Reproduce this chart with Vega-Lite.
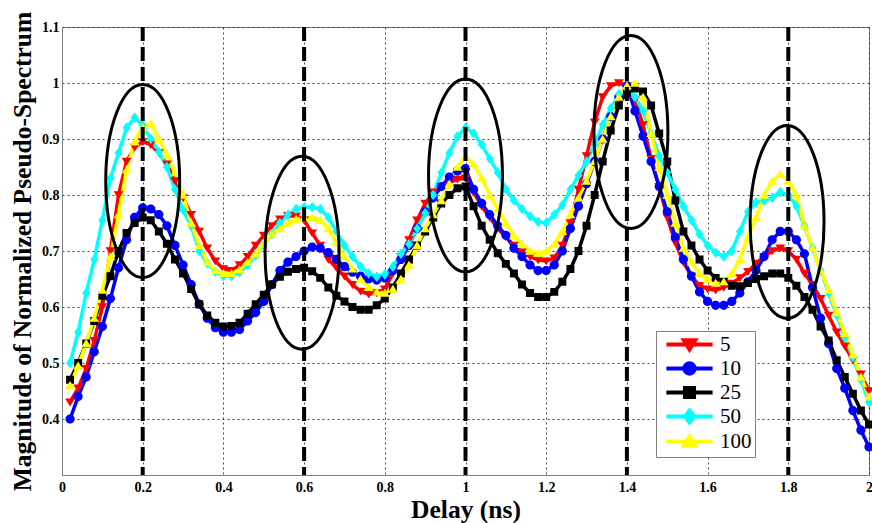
{
  "$schema": "https://vega.github.io/schema/vega-lite/v6.json",
  "width": 807,
  "height": 448,
  "autosize": {"type": "none"},
  "padding": {"left": 62, "top": 27, "right": 3, "bottom": 48},
  "background": "white",
  "config": {
    "view": {"stroke": "#808080", "strokeWidth": 1},
    "axis": {
      "labelFont": "Liberation Serif", "labelFontWeight": "bold", "labelFontSize": 14, "labelColor": "black",
      "titleFont": "Liberation Serif", "titleFontWeight": "bold", "titleFontSize": 25.5, "titleColor": "black",
      "domainColor": "#808080", "ticks": false, "gridColor": "#333333", "gridDash": [2, 3], "gridOpacity": 0.9,
      "labelFlush": false, "labelOverlap": false
    },
    "legend": {
      "title": null, "orient": "none", "legendX": 594, "legendY": 304,
      "fillColor": "white", "strokeColor": "#808080", "padding": 3,
      "symbolSize": 196, "symbolStrokeWidth": 4, "symbolOffset": 20, "labelOffset": 20,
      "symbolOpacity": 1,
      "labelFont": "Liberation Serif", "labelFontSize": 21, "labelFontWeight": "normal", "labelColor": "black",
      "rowPadding": -5.5
    }
  },
  "datasets": {
    "curves": [
      {"s":"5","d":0.02,"v":0.43},{"s":"5","d":0.04,"v":0.455},{"s":"5","d":0.06,"v":0.49},{"s":"5","d":0.08,"v":0.54},{"s":"5","d":0.10,"v":0.60},
      {"s":"5","d":0.12,"v":0.70},{"s":"5","d":0.14,"v":0.80},{"s":"5","d":0.16,"v":0.86},{"s":"5","d":0.18,"v":0.885},{"s":"5","d":0.20,"v":0.895},
      {"s":"5","d":0.22,"v":0.89},{"s":"5","d":0.24,"v":0.875},{"s":"5","d":0.26,"v":0.855},{"s":"5","d":0.28,"v":0.825},{"s":"5","d":0.30,"v":0.795},
      {"s":"5","d":0.32,"v":0.765},{"s":"5","d":0.34,"v":0.735},{"s":"5","d":0.36,"v":0.705},{"s":"5","d":0.38,"v":0.682},{"s":"5","d":0.40,"v":0.668},
      {"s":"5","d":0.42,"v":0.665},{"s":"5","d":0.44,"v":0.675},{"s":"5","d":0.46,"v":0.69},{"s":"5","d":0.48,"v":0.71},{"s":"5","d":0.50,"v":0.728},
      {"s":"5","d":0.52,"v":0.745},{"s":"5","d":0.54,"v":0.757},{"s":"5","d":0.56,"v":0.763},{"s":"5","d":0.58,"v":0.762},{"s":"5","d":0.60,"v":0.755},
      {"s":"5","d":0.62,"v":0.732},{"s":"5","d":0.64,"v":0.71},{"s":"5","d":0.66,"v":0.685},{"s":"5","d":0.68,"v":0.67},{"s":"5","d":0.70,"v":0.655},
      {"s":"5","d":0.72,"v":0.64},{"s":"5","d":0.74,"v":0.628},{"s":"5","d":0.76,"v":0.623},{"s":"5","d":0.78,"v":0.625},{"s":"5","d":0.80,"v":0.632},
      {"s":"5","d":0.82,"v":0.66},{"s":"5","d":0.84,"v":0.69},{"s":"5","d":0.86,"v":0.72},{"s":"5","d":0.88,"v":0.755},{"s":"5","d":0.90,"v":0.785},
      {"s":"5","d":0.92,"v":0.805},{"s":"5","d":0.94,"v":0.815},{"s":"5","d":0.96,"v":0.822},{"s":"5","d":0.98,"v":0.828},{"s":"5","d":1.00,"v":0.83},
      {"s":"5","d":1.02,"v":0.805},{"s":"5","d":1.04,"v":0.78},{"s":"5","d":1.06,"v":0.76},{"s":"5","d":1.08,"v":0.74},{"s":"5","d":1.10,"v":0.725},
      {"s":"5","d":1.12,"v":0.71},{"s":"5","d":1.14,"v":0.698},{"s":"5","d":1.16,"v":0.69},{"s":"5","d":1.18,"v":0.684},{"s":"5","d":1.20,"v":0.682},
      {"s":"5","d":1.22,"v":0.687},{"s":"5","d":1.24,"v":0.71},{"s":"5","d":1.26,"v":0.75},{"s":"5","d":1.28,"v":0.81},{"s":"5","d":1.30,"v":0.87},
      {"s":"5","d":1.32,"v":0.93},{"s":"5","d":1.34,"v":0.975},{"s":"5","d":1.36,"v":0.995},{"s":"5","d":1.38,"v":1.0},{"s":"5","d":1.40,"v":0.995},
      {"s":"5","d":1.42,"v":0.97},{"s":"5","d":1.44,"v":0.925},{"s":"5","d":1.46,"v":0.865},{"s":"5","d":1.48,"v":0.815},{"s":"5","d":1.50,"v":0.76},
      {"s":"5","d":1.52,"v":0.715},{"s":"5","d":1.54,"v":0.68},{"s":"5","d":1.56,"v":0.655},{"s":"5","d":1.58,"v":0.638},{"s":"5","d":1.60,"v":0.632},
      {"s":"5","d":1.62,"v":0.63},{"s":"5","d":1.64,"v":0.635},{"s":"5","d":1.66,"v":0.642},{"s":"5","d":1.68,"v":0.652},{"s":"5","d":1.70,"v":0.663},
      {"s":"5","d":1.72,"v":0.678},{"s":"5","d":1.74,"v":0.69},{"s":"5","d":1.76,"v":0.70},{"s":"5","d":1.78,"v":0.705},{"s":"5","d":1.80,"v":0.70},
      {"s":"5","d":1.82,"v":0.685},{"s":"5","d":1.84,"v":0.66},{"s":"5","d":1.86,"v":0.64},{"s":"5","d":1.88,"v":0.615},{"s":"5","d":1.90,"v":0.585},
      {"s":"5","d":1.92,"v":0.555},{"s":"5","d":1.94,"v":0.53},{"s":"5","d":1.96,"v":0.505},{"s":"5","d":1.98,"v":0.48},{"s":"5","d":2.00,"v":0.45},

      {"s":"10","d":0.02,"v":0.40},{"s":"10","d":0.04,"v":0.44},{"s":"10","d":0.06,"v":0.475},{"s":"10","d":0.08,"v":0.52},{"s":"10","d":0.10,"v":0.565},
      {"s":"10","d":0.12,"v":0.615},{"s":"10","d":0.14,"v":0.67},{"s":"10","d":0.16,"v":0.72},{"s":"10","d":0.18,"v":0.76},{"s":"10","d":0.20,"v":0.777},
      {"s":"10","d":0.22,"v":0.775},{"s":"10","d":0.24,"v":0.765},{"s":"10","d":0.26,"v":0.745},{"s":"10","d":0.28,"v":0.71},{"s":"10","d":0.30,"v":0.675},
      {"s":"10","d":0.32,"v":0.64},{"s":"10","d":0.34,"v":0.605},{"s":"10","d":0.36,"v":0.58},{"s":"10","d":0.38,"v":0.563},{"s":"10","d":0.40,"v":0.555},
      {"s":"10","d":0.42,"v":0.555},{"s":"10","d":0.44,"v":0.56},{"s":"10","d":0.46,"v":0.575},{"s":"10","d":0.48,"v":0.59},{"s":"10","d":0.50,"v":0.61},
      {"s":"10","d":0.52,"v":0.64},{"s":"10","d":0.54,"v":0.665},{"s":"10","d":0.56,"v":0.68},{"s":"10","d":0.58,"v":0.69},{"s":"10","d":0.60,"v":0.70},
      {"s":"10","d":0.62,"v":0.707},{"s":"10","d":0.64,"v":0.705},{"s":"10","d":0.66,"v":0.697},{"s":"10","d":0.68,"v":0.685},{"s":"10","d":0.70,"v":0.672},
      {"s":"10","d":0.72,"v":0.662},{"s":"10","d":0.74,"v":0.655},{"s":"10","d":0.76,"v":0.65},{"s":"10","d":0.78,"v":0.648},{"s":"10","d":0.80,"v":0.652},
      {"s":"10","d":0.82,"v":0.665},{"s":"10","d":0.84,"v":0.685},{"s":"10","d":0.86,"v":0.71},{"s":"10","d":0.88,"v":0.74},{"s":"10","d":0.90,"v":0.77},
      {"s":"10","d":0.92,"v":0.795},{"s":"10","d":0.94,"v":0.815},{"s":"10","d":0.96,"v":0.832},{"s":"10","d":0.98,"v":0.843},{"s":"10","d":1.00,"v":0.847},
      {"s":"10","d":1.02,"v":0.81},{"s":"10","d":1.04,"v":0.785},{"s":"10","d":1.06,"v":0.765},{"s":"10","d":1.08,"v":0.745},{"s":"10","d":1.10,"v":0.728},
      {"s":"10","d":1.12,"v":0.705},{"s":"10","d":1.14,"v":0.69},{"s":"10","d":1.16,"v":0.675},{"s":"10","d":1.18,"v":0.665},{"s":"10","d":1.20,"v":0.665},
      {"s":"10","d":1.22,"v":0.675},{"s":"10","d":1.24,"v":0.70},{"s":"10","d":1.26,"v":0.74},{"s":"10","d":1.28,"v":0.78},{"s":"10","d":1.30,"v":0.82},
      {"s":"10","d":1.32,"v":0.86},{"s":"10","d":1.34,"v":0.90},{"s":"10","d":1.36,"v":0.94},{"s":"10","d":1.38,"v":0.975},{"s":"10","d":1.40,"v":0.995},
      {"s":"10","d":1.42,"v":0.95},{"s":"10","d":1.44,"v":0.905},{"s":"10","d":1.46,"v":0.86},{"s":"10","d":1.48,"v":0.815},{"s":"10","d":1.50,"v":0.77},
      {"s":"10","d":1.52,"v":0.725},{"s":"10","d":1.54,"v":0.685},{"s":"10","d":1.56,"v":0.655},{"s":"10","d":1.58,"v":0.627},{"s":"10","d":1.60,"v":0.61},
      {"s":"10","d":1.62,"v":0.603},{"s":"10","d":1.64,"v":0.603},{"s":"10","d":1.66,"v":0.61},{"s":"10","d":1.68,"v":0.625},{"s":"10","d":1.70,"v":0.645},
      {"s":"10","d":1.72,"v":0.665},{"s":"10","d":1.74,"v":0.69},{"s":"10","d":1.76,"v":0.72},{"s":"10","d":1.78,"v":0.735},{"s":"10","d":1.80,"v":0.735},
      {"s":"10","d":1.82,"v":0.72},{"s":"10","d":1.84,"v":0.695},{"s":"10","d":1.86,"v":0.635},{"s":"10","d":1.88,"v":0.58},{"s":"10","d":1.90,"v":0.535},
      {"s":"10","d":1.92,"v":0.49},{"s":"10","d":1.94,"v":0.455},{"s":"10","d":1.96,"v":0.415},{"s":"10","d":1.98,"v":0.38},{"s":"10","d":2.00,"v":0.35},

      {"s":"25","d":0.02,"v":0.47},{"s":"25","d":0.04,"v":0.50},{"s":"25","d":0.06,"v":0.535},{"s":"25","d":0.08,"v":0.575},{"s":"25","d":0.10,"v":0.62},
      {"s":"25","d":0.12,"v":0.655},{"s":"25","d":0.14,"v":0.70},{"s":"25","d":0.16,"v":0.732},{"s":"25","d":0.18,"v":0.75},{"s":"25","d":0.20,"v":0.76},
      {"s":"25","d":0.22,"v":0.755},{"s":"25","d":0.24,"v":0.735},{"s":"25","d":0.26,"v":0.713},{"s":"25","d":0.28,"v":0.685},{"s":"25","d":0.30,"v":0.66},
      {"s":"25","d":0.32,"v":0.632},{"s":"25","d":0.34,"v":0.605},{"s":"25","d":0.36,"v":0.585},{"s":"25","d":0.38,"v":0.572},{"s":"25","d":0.40,"v":0.565},
      {"s":"25","d":0.42,"v":0.566},{"s":"25","d":0.44,"v":0.572},{"s":"25","d":0.46,"v":0.588},{"s":"25","d":0.48,"v":0.605},{"s":"25","d":0.50,"v":0.622},
      {"s":"25","d":0.52,"v":0.64},{"s":"25","d":0.54,"v":0.654},{"s":"25","d":0.56,"v":0.663},{"s":"25","d":0.58,"v":0.668},{"s":"25","d":0.60,"v":0.67},
      {"s":"25","d":0.62,"v":0.664},{"s":"25","d":0.64,"v":0.652},{"s":"25","d":0.66,"v":0.635},{"s":"25","d":0.68,"v":0.62},{"s":"25","d":0.70,"v":0.61},
      {"s":"25","d":0.72,"v":0.60},{"s":"25","d":0.74,"v":0.595},{"s":"25","d":0.76,"v":0.595},{"s":"25","d":0.78,"v":0.603},{"s":"25","d":0.80,"v":0.615},
      {"s":"25","d":0.82,"v":0.635},{"s":"25","d":0.84,"v":0.66},{"s":"25","d":0.86,"v":0.685},{"s":"25","d":0.88,"v":0.71},{"s":"25","d":0.90,"v":0.735},
      {"s":"25","d":0.92,"v":0.76},{"s":"25","d":0.94,"v":0.785},{"s":"25","d":0.96,"v":0.80},{"s":"25","d":0.98,"v":0.812},{"s":"25","d":1.00,"v":0.815},
      {"s":"25","d":1.02,"v":0.78},{"s":"25","d":1.04,"v":0.745},{"s":"25","d":1.06,"v":0.72},{"s":"25","d":1.08,"v":0.696},{"s":"25","d":1.10,"v":0.677},
      {"s":"25","d":1.12,"v":0.66},{"s":"25","d":1.14,"v":0.64},{"s":"25","d":1.16,"v":0.625},{"s":"25","d":1.18,"v":0.618},{"s":"25","d":1.20,"v":0.618},
      {"s":"25","d":1.22,"v":0.627},{"s":"25","d":1.24,"v":0.645},{"s":"25","d":1.26,"v":0.668},{"s":"25","d":1.28,"v":0.70},{"s":"25","d":1.30,"v":0.745},
      {"s":"25","d":1.32,"v":0.80},{"s":"25","d":1.34,"v":0.86},{"s":"25","d":1.36,"v":0.915},{"s":"25","d":1.38,"v":0.96},{"s":"25","d":1.40,"v":0.985},
      {"s":"25","d":1.42,"v":0.99},{"s":"25","d":1.44,"v":0.985},{"s":"25","d":1.46,"v":0.96},{"s":"25","d":1.48,"v":0.91},{"s":"25","d":1.50,"v":0.86},
      {"s":"25","d":1.52,"v":0.79},{"s":"25","d":1.54,"v":0.735},{"s":"25","d":1.56,"v":0.71},{"s":"25","d":1.58,"v":0.685},{"s":"25","d":1.60,"v":0.665},
      {"s":"25","d":1.62,"v":0.652},{"s":"25","d":1.64,"v":0.645},{"s":"25","d":1.66,"v":0.638},{"s":"25","d":1.68,"v":0.637},{"s":"25","d":1.70,"v":0.643},
      {"s":"25","d":1.72,"v":0.65},{"s":"25","d":1.74,"v":0.655},{"s":"25","d":1.76,"v":0.66},{"s":"25","d":1.78,"v":0.66},{"s":"25","d":1.80,"v":0.652},
      {"s":"25","d":1.82,"v":0.638},{"s":"25","d":1.84,"v":0.618},{"s":"25","d":1.86,"v":0.595},{"s":"25","d":1.88,"v":0.565},{"s":"25","d":1.90,"v":0.54},
      {"s":"25","d":1.92,"v":0.505},{"s":"25","d":1.94,"v":0.475},{"s":"25","d":1.96,"v":0.445},{"s":"25","d":1.98,"v":0.415},{"s":"25","d":2.00,"v":0.39},

      {"s":"50","d":0.02,"v":0.50},{"s":"50","d":0.04,"v":0.555},{"s":"50","d":0.06,"v":0.625},{"s":"50","d":0.08,"v":0.685},{"s":"50","d":0.10,"v":0.755},
      {"s":"50","d":0.12,"v":0.83},{"s":"50","d":0.14,"v":0.875},{"s":"50","d":0.16,"v":0.92},{"s":"50","d":0.18,"v":0.938},{"s":"50","d":0.20,"v":0.925},
      {"s":"50","d":0.22,"v":0.90},{"s":"50","d":0.24,"v":0.877},{"s":"50","d":0.26,"v":0.85},{"s":"50","d":0.28,"v":0.81},{"s":"50","d":0.30,"v":0.773},
      {"s":"50","d":0.32,"v":0.745},{"s":"50","d":0.34,"v":0.70},{"s":"50","d":0.36,"v":0.678},{"s":"50","d":0.38,"v":0.663},{"s":"50","d":0.40,"v":0.655},
      {"s":"50","d":0.42,"v":0.655},{"s":"50","d":0.44,"v":0.662},{"s":"50","d":0.46,"v":0.675},{"s":"50","d":0.48,"v":0.692},{"s":"50","d":0.50,"v":0.71},
      {"s":"50","d":0.52,"v":0.73},{"s":"50","d":0.54,"v":0.75},{"s":"50","d":0.56,"v":0.765},{"s":"50","d":0.58,"v":0.775},{"s":"50","d":0.60,"v":0.778},
      {"s":"50","d":0.62,"v":0.778},{"s":"50","d":0.64,"v":0.775},{"s":"50","d":0.66,"v":0.76},{"s":"50","d":0.68,"v":0.735},{"s":"50","d":0.70,"v":0.71},
      {"s":"50","d":0.72,"v":0.69},{"s":"50","d":0.74,"v":0.672},{"s":"50","d":0.76,"v":0.66},{"s":"50","d":0.78,"v":0.654},{"s":"50","d":0.80,"v":0.658},
      {"s":"50","d":0.82,"v":0.672},{"s":"50","d":0.84,"v":0.695},{"s":"50","d":0.86,"v":0.712},{"s":"50","d":0.88,"v":0.74},{"s":"50","d":0.90,"v":0.768},
      {"s":"50","d":0.92,"v":0.80},{"s":"50","d":0.94,"v":0.84},{"s":"50","d":0.96,"v":0.875},{"s":"50","d":0.98,"v":0.905},{"s":"50","d":1.00,"v":0.92},
      {"s":"50","d":1.02,"v":0.91},{"s":"50","d":1.04,"v":0.89},{"s":"50","d":1.06,"v":0.865},{"s":"50","d":1.08,"v":0.84},{"s":"50","d":1.10,"v":0.81},
      {"s":"50","d":1.12,"v":0.79},{"s":"50","d":1.14,"v":0.775},{"s":"50","d":1.16,"v":0.762},{"s":"50","d":1.18,"v":0.752},{"s":"50","d":1.20,"v":0.75},
      {"s":"50","d":1.22,"v":0.765},{"s":"50","d":1.24,"v":0.782},{"s":"50","d":1.26,"v":0.81},{"s":"50","d":1.28,"v":0.835},{"s":"50","d":1.30,"v":0.86},
      {"s":"50","d":1.32,"v":0.89},{"s":"50","d":1.34,"v":0.925},{"s":"50","d":1.36,"v":0.955},{"s":"50","d":1.38,"v":0.98},{"s":"50","d":1.40,"v":0.99},
      {"s":"50","d":1.42,"v":0.975},{"s":"50","d":1.44,"v":0.95},{"s":"50","d":1.46,"v":0.91},{"s":"50","d":1.48,"v":0.87},{"s":"50","d":1.50,"v":0.84},
      {"s":"50","d":1.52,"v":0.81},{"s":"50","d":1.54,"v":0.78},{"s":"50","d":1.56,"v":0.755},{"s":"50","d":1.58,"v":0.73},{"s":"50","d":1.60,"v":0.71},
      {"s":"50","d":1.62,"v":0.697},{"s":"50","d":1.64,"v":0.69},{"s":"50","d":1.66,"v":0.70},{"s":"50","d":1.68,"v":0.735},{"s":"50","d":1.70,"v":0.77},
      {"s":"50","d":1.72,"v":0.787},{"s":"50","d":1.74,"v":0.79},{"s":"50","d":1.76,"v":0.795},{"s":"50","d":1.78,"v":0.805},{"s":"50","d":1.80,"v":0.80},
      {"s":"50","d":1.82,"v":0.78},{"s":"50","d":1.84,"v":0.745},{"s":"50","d":1.86,"v":0.705},{"s":"50","d":1.88,"v":0.665},{"s":"50","d":1.90,"v":0.625},
      {"s":"50","d":1.92,"v":0.585},{"s":"50","d":1.94,"v":0.545},{"s":"50","d":1.96,"v":0.51},{"s":"50","d":1.98,"v":0.47},{"s":"50","d":2.00,"v":0.43},

      {"s":"100","d":0.02,"v":0.46},{"s":"100","d":0.04,"v":0.495},{"s":"100","d":0.06,"v":0.535},{"s":"100","d":0.08,"v":0.58},{"s":"100","d":0.10,"v":0.63},
      {"s":"100","d":0.12,"v":0.69},{"s":"100","d":0.14,"v":0.765},{"s":"100","d":0.16,"v":0.845},{"s":"100","d":0.18,"v":0.895},{"s":"100","d":0.20,"v":0.92},
      {"s":"100","d":0.22,"v":0.928},{"s":"100","d":0.24,"v":0.90},{"s":"100","d":0.26,"v":0.872},{"s":"100","d":0.28,"v":0.84},{"s":"100","d":0.30,"v":0.80},
      {"s":"100","d":0.32,"v":0.75},{"s":"100","d":0.34,"v":0.71},{"s":"100","d":0.36,"v":0.68},{"s":"100","d":0.38,"v":0.665},{"s":"100","d":0.40,"v":0.66},
      {"s":"100","d":0.42,"v":0.66},{"s":"100","d":0.44,"v":0.667},{"s":"100","d":0.46,"v":0.68},{"s":"100","d":0.48,"v":0.695},{"s":"100","d":0.50,"v":0.712},
      {"s":"100","d":0.52,"v":0.73},{"s":"100","d":0.54,"v":0.74},{"s":"100","d":0.56,"v":0.75},{"s":"100","d":0.58,"v":0.757},{"s":"100","d":0.60,"v":0.76},
      {"s":"100","d":0.62,"v":0.76},{"s":"100","d":0.64,"v":0.755},{"s":"100","d":0.66,"v":0.74},{"s":"100","d":0.68,"v":0.715},{"s":"100","d":0.70,"v":0.69},
      {"s":"100","d":0.72,"v":0.668},{"s":"100","d":0.74,"v":0.65},{"s":"100","d":0.76,"v":0.635},{"s":"100","d":0.78,"v":0.627},{"s":"100","d":0.80,"v":0.625},
      {"s":"100","d":0.82,"v":0.632},{"s":"100","d":0.84,"v":0.65},{"s":"100","d":0.86,"v":0.675},{"s":"100","d":0.88,"v":0.71},{"s":"100","d":0.90,"v":0.74},
      {"s":"100","d":0.92,"v":0.765},{"s":"100","d":0.94,"v":0.79},{"s":"100","d":0.96,"v":0.82},{"s":"100","d":0.98,"v":0.85},{"s":"100","d":1.00,"v":0.868},
      {"s":"100","d":1.02,"v":0.855},{"s":"100","d":1.04,"v":0.83},{"s":"100","d":1.06,"v":0.80},{"s":"100","d":1.08,"v":0.775},{"s":"100","d":1.10,"v":0.75},
      {"s":"100","d":1.12,"v":0.727},{"s":"100","d":1.14,"v":0.712},{"s":"100","d":1.16,"v":0.70},{"s":"100","d":1.18,"v":0.696},{"s":"100","d":1.20,"v":0.70},
      {"s":"100","d":1.22,"v":0.712},{"s":"100","d":1.24,"v":0.735},{"s":"100","d":1.26,"v":0.765},{"s":"100","d":1.28,"v":0.795},{"s":"100","d":1.30,"v":0.825},
      {"s":"100","d":1.32,"v":0.86},{"s":"100","d":1.34,"v":0.90},{"s":"100","d":1.36,"v":0.94},{"s":"100","d":1.38,"v":0.975},{"s":"100","d":1.40,"v":0.995},
      {"s":"100","d":1.42,"v":1.0},{"s":"100","d":1.44,"v":0.975},{"s":"100","d":1.46,"v":0.91},{"s":"100","d":1.48,"v":0.85},{"s":"100","d":1.50,"v":0.80},
      {"s":"100","d":1.52,"v":0.75},{"s":"100","d":1.54,"v":0.705},{"s":"100","d":1.56,"v":0.68},{"s":"100","d":1.58,"v":0.66},{"s":"100","d":1.60,"v":0.65},
      {"s":"100","d":1.62,"v":0.643},{"s":"100","d":1.64,"v":0.645},{"s":"100","d":1.66,"v":0.66},{"s":"100","d":1.68,"v":0.685},{"s":"100","d":1.70,"v":0.725},
      {"s":"100","d":1.72,"v":0.76},{"s":"100","d":1.74,"v":0.80},{"s":"100","d":1.76,"v":0.825},{"s":"100","d":1.78,"v":0.837},{"s":"100","d":1.80,"v":0.825},
      {"s":"100","d":1.82,"v":0.80},{"s":"100","d":1.84,"v":0.745},{"s":"100","d":1.86,"v":0.705},{"s":"100","d":1.88,"v":0.665},{"s":"100","d":1.90,"v":0.63},
      {"s":"100","d":1.92,"v":0.59},{"s":"100","d":1.94,"v":0.553},{"s":"100","d":1.96,"v":0.515},{"s":"100","d":1.98,"v":0.475},{"s":"100","d":2.00,"v":0.44}
    ],
    "marks": [{"d":0.2},{"d":0.6},{"d":1.0},{"d":1.4},{"d":1.8}],
    "ellipses": [
      {"d":0.2,"v":0.825},{"d":0.595,"v":0.697},{"d":1.0,"v":0.835},{"d":1.41,"v":0.9125},{"d":1.797,"v":0.752}
    ]
  },
  "encoding": {
    "x": {
      "field": "d", "type": "quantitative",
      "scale": {"domain": [0, 2], "nice": false, "zero": false},
      "axis": {
        "title": "Delay (ns)", "values": [0, 0.2, 0.4, 0.6, 0.8, 1, 1.2, 1.4, 1.6, 1.8, 2],
        "format": "~g", "labelPadding": 5, "titlePadding": 3, "grid": true
      }
    },
    "y": {
      "field": "v", "type": "quantitative",
      "scale": {"domain": [0.3, 1.1], "nice": false, "zero": false},
      "axis": {
        "title": "Magnitude of Normalized Pseudo-Spectrum",
        "values": [0.3, 0.4, 0.5, 0.6, 0.7, 0.8, 0.9, 1, 1.1],
        "format": "~g", "labelExpr": "datum.value < 0.35 ? '' : datum.label",
        "labelPadding": 3, "titlePadding": 6, "grid": true
      }
    }
  },
  "layer": [
    {
      "data": {"name": "curves"},
      "mark": {"type": "line", "strokeWidth": 3.5, "interpolate": "linear"},
      "encoding": {
        "color": {"field": "s", "type": "nominal",
          "scale": {"domain": ["5", "10", "25", "50", "100"], "range": ["#ff0000", "#0000ff", "#000000", "#00ffff", "#ffff00"]}},
        "detail": {"field": "s"}
      }
    },
    {
      "data": {"name": "curves"},
      "mark": {"type": "point", "filled": true, "size": 150, "opacity": 1, "strokeWidth": 0},
      "encoding": {
        "color": {"field": "s", "type": "nominal",
          "scale": {"domain": ["5", "10", "25", "50", "100"], "range": ["#ff0000", "#0000ff", "#000000", "#00ffff", "#ffff00"]}},
        "shape": {"field": "s", "type": "nominal",
          "scale": {"domain": ["5", "10", "25", "50", "100"], "range": [
            "M-3.3,0L3.3,0M-0.8,-0.6L0.8,-0.6L0,0.7Z",
            "M-3.3,0L3.3,0M0,-0.75C0.41,-0.75,0.75,-0.41,0.75,0C0.75,0.41,0.41,0.75,0,0.75C-0.41,0.75,-0.75,0.41,-0.75,0C-0.75,-0.41,-0.41,-0.75,0,-0.75Z",
            "M-3.3,0L3.3,0M-0.65,-0.65L0.65,-0.65L0.65,0.65L-0.65,0.65Z",
            "M-3.3,0L3.3,0M0,-0.85L0.65,0L0,0.85L-0.65,0Z",
            "M-3.3,0L3.3,0M-0.8,0.6L0.8,0.6L0,-0.7Z"
          ]}}
      }
    },
    {
      "data": {"name": "marks"},
      "mark": {"type": "rule", "color": "black", "strokeWidth": 4, "strokeDash": [14, 6]},
      "encoding": {"x": {"field": "d", "type": "quantitative"}, "y": null}
    },
    {
      "data": {"name": "ellipses"},
      "mark": {
        "type": "point", "filled": false, "color": "black", "strokeWidth": 3, "opacity": 1, "size": 37249,
        "shape": "M0,-1C0.2117,-1,0.383,-0.5523,0.383,0C0.383,0.5523,0.2117,1,0,1C-0.2117,1,-0.383,0.5523,-0.383,0C-0.383,-0.5523,-0.2117,-1,0,-1Z"
      },
      "encoding": {}
    }
  ]
}
